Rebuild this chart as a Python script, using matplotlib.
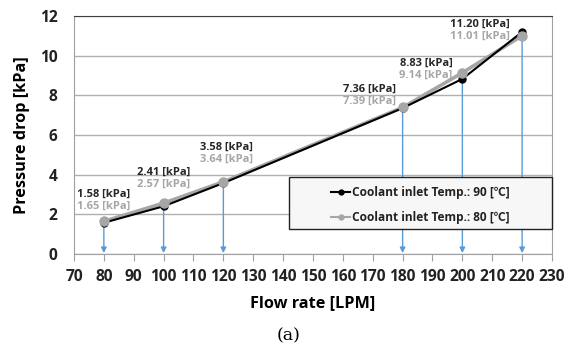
import matplotlib.pyplot as plt
from matplotlib.patches import Rectangle

plt.rcParams['font.family'] = ['Open Sans', 'Noto Sans CJK KR', 'DejaVu Sans']

flow = [80, 100, 120, 180, 200, 220]
dp_90 = [1.58, 2.41, 3.58, 7.36, 8.83, 11.20]
dp_80 = [1.65, 2.57, 3.64, 7.39, 9.14, 11.01]
label_90 = 'Coolant inlet Temp.: 90 [℃]'
label_80 = 'Coolant inlet Temp.: 80 [℃]'

# label placement (offset in points from the black point, alignment)
offsets = [(0, 12, 'center'), (0, 16, 'center'), (2, 17, 'center'),
           (-5, 5, 'right'), (-7, 2.5, 'right'), (-9, -3, 'right')]

fig = plt.figure(figsize=(5.78, 3.49), dpi=100)
ax = fig.add_axes([0.128, 0.272, 0.827, 0.682])

ax.set_xlim(70, 230)
ax.set_ylim(0, 12)
ax.set_xticks(range(70, 231, 10))
ax.set_yticks(range(0, 13, 2))
ax.yaxis.grid(True, color='#B0B0B0', lw=1)
ax.set_axisbelow(True)
for s in ax.spines.values():
    s.set_color('#A0A0A0')
ax.spines['top'].set_color('#404040')
ax.tick_params(axis='y', length=0, pad=12)
ax.tick_params(axis='x', length=5, direction='out', color='#A0A0A0', pad=6)
for lab in ax.get_xticklabels() + ax.get_yticklabels():
    lab.set_fontweight('bold')
    lab.set_fontsize(11.2)
    lab.set_color('#222222')

# blue drop lines with arrowheads
for x, y in zip(flow, dp_90):
    ax.annotate('', xy=(x, 0.05), xytext=(x, y),
                arrowprops=dict(arrowstyle='-|>', color='#5B9BD5', lw=1,
                                mutation_scale=8, shrinkA=0, shrinkB=0),
                zorder=2)

ax.plot(flow, dp_80, color='#A6A6A6', lw=2.6, zorder=3)
ax.plot(flow, dp_90, color='black', lw=1.5, marker='o', ms=5, zorder=4)
ax.plot(flow, dp_80, color='#A6A6A6', lw=0, marker='o', ms=6.5, zorder=5)

for x, y90, y80, (dx, dy, ha) in zip(flow, dp_90, dp_80, offsets):
    ax.annotate('%.2f [kPa]' % y90, (x, y90), xytext=(dx, dy + 8.5),
                textcoords='offset points', ha=ha, va='center',
                fontsize=8, fontweight='bold', color='#262626')
    ax.annotate('%.2f [kPa]' % y80, (x, y90), xytext=(dx, dy),
                textcoords='offset points', ha=ha, va='center',
                fontsize=8, fontweight='bold', color='#A6A6A6')

# legend box and entries
ax.add_patch(Rectangle((0.45, 0.105), 0.55, 0.2185, transform=ax.transAxes,
                       facecolor='#F7F7F7', edgecolor='#222222', lw=1,
                       zorder=6, clip_on=False))
h90, = ax.plot([], [], color='black', lw=1.5, marker='o', ms=3.5)
h80, = ax.plot([], [], color='#A6A6A6', lw=1.5, marker='o', ms=3.5)
leg = ax.legend([h90, h80], [label_90, label_80], loc='center',
                bbox_to_anchor=(0.725, 0.206), frameon=False,
                borderpad=0, handlelength=1.6, handletextpad=0.15,
                labelspacing=0.95, prop={'weight': 'bold', 'size': 8.6})
leg.set_zorder(7)
for t in leg.get_texts():
    t.set_color('#222222')

ax.set_xlabel('Flow rate [LPM]', fontsize=11.7, fontweight='bold', labelpad=7)
ax.set_ylabel('Pressure drop [kPa]', fontsize=11.7, fontweight='bold',
              labelpad=7)

fig.text(0.5, 0.037, '(a)', ha='center', va='center', fontsize=12.5,
         family='DejaVu Serif')

fig.savefig('out.png', dpi=100)
